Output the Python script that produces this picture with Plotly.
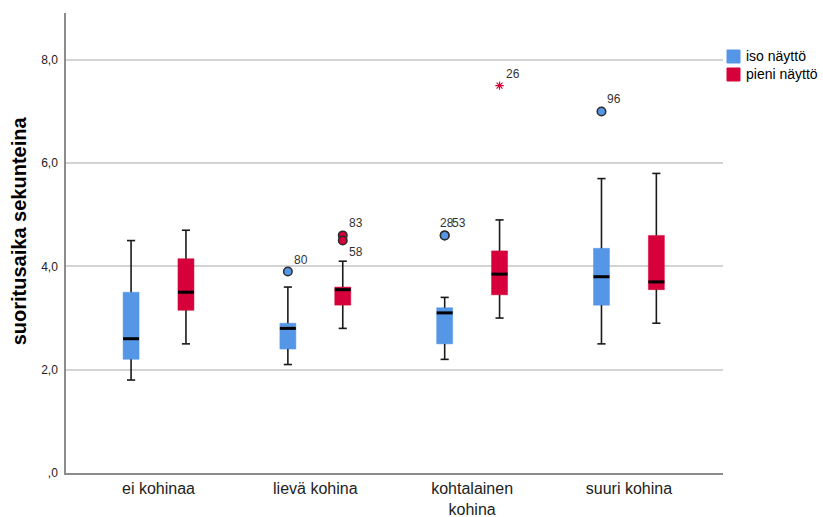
import plotly.graph_objects as go

# Noise level categories on the x axis
groups = ["ei kohinaa", "lievä kohina", "kohtalainen<br>kohina", "suuri kohina"]
y_ticks = [0, 2, 4, 6, 8]
y_tick_text = [",0", "2,0", "4,0", "6,0", "8,0"]

# Box statistics, "iso näyttö" (large screen)
iso_low = [1.8, 2.1, 2.2, 2.5]
iso_q1 = [2.2, 2.4, 2.5, 3.25]
iso_med = [2.6, 2.8, 3.1, 3.8]
iso_q3 = [3.5, 2.9, 3.2, 4.35]
iso_high = [4.5, 3.6, 3.4, 5.7]

# Box statistics, "pieni näyttö" (small screen)
pieni_low = [2.5, 2.8, 3.0, 2.9]
pieni_q1 = [3.15, 3.25, 3.45, 3.55]
pieni_med = [3.5, 3.55, 3.85, 3.7]
pieni_q3 = [4.15, 3.6, 4.3, 4.6]
pieni_high = [4.7, 4.1, 4.9, 5.8]

# Outliers: group index, value, case number, extreme flag
iso_out_group = [1, 2, 2, 3]
iso_out_value = [3.9, 4.6, 4.6, 7.0]
iso_out_case = ["80", "28", "53", "96"]
iso_out_extreme = [False, False, False, False]

pieni_out_group = [1, 1, 2]
pieni_out_value = [4.6, 4.5, 7.5]
pieni_out_case = ["83", "58", "26"]
pieni_out_extreme = [False, False, True]

BLUE = "#5596E6"
RED = "#D6003A"
OFFSET = 0.175
BOX_W = 0.102
CAP_HALF = 0.026
FONT = "Liberation Sans, Arial, sans-serif"

series = [
    ("iso näyttö", BLUE, -OFFSET, iso_low, iso_q1, iso_med, iso_q3, iso_high,
     iso_out_group, iso_out_value, iso_out_case, iso_out_extreme),
    ("pieni näyttö", RED, OFFSET, pieni_low, pieni_q1, pieni_med, pieni_q3, pieni_high,
     pieni_out_group, pieni_out_value, pieni_out_case, pieni_out_extreme),
]

fig = go.Figure()
annotations = []

for (name, color, off, low, q1, med, q3, high,
     og, ov, oc, oe) in series:
    pos = [i + off for i in range(len(groups))]

    # whiskers with caps
    wx, wy = [], []
    for x, lo, a, b, hi in zip(pos, low, q1, q3, high):
        wx += [x, x, None, x, x, None,
               x - CAP_HALF, x + CAP_HALF, None, x - CAP_HALF, x + CAP_HALF, None]
        wy += [lo, a, None, b, hi, None, lo, lo, None, hi, hi, None]
    fig.add_trace(go.Scatter(x=wx, y=wy, mode="lines",
                             line=dict(color="#1a1a1a", width=1.6),
                             showlegend=False, hoverinfo="skip"))

    # interquartile boxes
    fig.add_trace(go.Bar(x=pos, base=q1, y=[b - a for a, b in zip(q1, q3)],
                         width=BOX_W, marker=dict(color=color, line=dict(color=color, width=0.5)),
                         name=name, showlegend=False))

    # medians
    mx, my = [], []
    for x, m in zip(pos, med):
        mx += [x - BOX_W / 2, x + BOX_W / 2, None]
        my += [m, m, None]
    fig.add_trace(go.Scatter(x=mx, y=my, mode="lines",
                             line=dict(color="black", width=3),
                             showlegend=False, hoverinfo="skip"))

    # outliers (circles) and extremes (asterisks)
    out_x = [g + off for g, e in zip(og, oe) if not e]
    out_y = [v for v, e in zip(ov, oe) if not e]
    ext_x = [g + off for g, e in zip(og, oe) if e]
    ext_y = [v for v, e in zip(ov, oe) if e]
    if out_x:
        fig.add_trace(go.Scatter(
            x=out_x, y=out_y, mode="markers", showlegend=False, hoverinfo="skip",
            marker=dict(symbol="circle", size=8.5, color=color,
                        line=dict(color="#2b2b2b", width=1.5))))
    if ext_x:
        fig.add_trace(go.Scatter(
            x=ext_x, y=ext_y, mode="markers", showlegend=False, hoverinfo="skip",
            marker=dict(symbol="asterisk-open", size=7, color=color,
                        line=dict(color=color, width=1.1))))

    # case number labels; coincident points share one spot and their labels sit side by side
    points = list(zip(og, ov))
    seen = {}
    for g, v, c in zip(og, ov, oc):
        key = (g, v)
        n = seen.get(key, 0)
        seen[key] = n + 1
        shared = points.count(key) > 1
        below = any(gg == g and 0 < vv - v < 0.3 for gg, vv in points)
        annotations.append(dict(
            x=g + off, y=v, xref="x", yref="y", text=c, showarrow=False,
            xanchor="left", yanchor="middle",
            xshift=(-7 + n * 12) if shared else 4,
            yshift=-11 if below else 12,
            font=dict(family=FONT, size=12, color="#333333")))

# y axis title
annotations.append(dict(
    text="<b>suoritusaika sekunteina</b>", xref="paper", yref="paper",
    x=-0.072, y=0.527, xanchor="center", yanchor="middle", textangle=-90,
    showarrow=False, font=dict(family=FONT, size=20, color="black")))

# legend built from the series colours
for i, (name, color, *_rest) in enumerate(series):
    top = 1 - (50 - 13) / 460 - i * 18 / 460
    fig.add_shape(type="rect", xref="paper", yref="paper",
                  x0=(727 - 66) / 657, x1=(740 - 66) / 657,
                  y0=top - 13 / 460, y1=top,
                  fillcolor=color, line=dict(color=color, width=1))
    annotations.append(dict(
        text=name, xref="paper", yref="paper",
        x=(744 - 66) / 657, y=top - 6.5 / 460, xanchor="left", yanchor="middle",
        showarrow=False, font=dict(family=FONT, size=14, color="black")))

fig.update_layout(
    width=823, height=517,
    margin=dict(l=66, r=100, t=13, b=44, autoexpand=False),
    paper_bgcolor="white", plot_bgcolor="white",
    barmode="overlay", showlegend=False,
    annotations=annotations,
    font=dict(family=FONT, color="#222222"),
)
fig.update_xaxes(
    range=[-0.59, 3.6], tickvals=list(range(len(groups))), ticktext=groups,
    showgrid=False, zeroline=False, showline=True, linecolor="#8c8c8c", linewidth=1.5,
    ticks="", automargin=False, ticklabelstandoff=0,
    tickfont=dict(family=FONT, size=16, color="#222222"),
)
fig.update_yaxes(
    range=[0, 8.906], tickvals=y_ticks, ticktext=y_tick_text,
    showgrid=True, gridcolor="#d3d3d3", gridwidth=1.5, zeroline=False,
    showline=True, linecolor="#8c8c8c", linewidth=1.5, automargin=False,
    ticks="", ticklabelstandoff=4, tickfont=dict(family=FONT, size=12, color="#222222"),
)

fig.write_html("out.html")
